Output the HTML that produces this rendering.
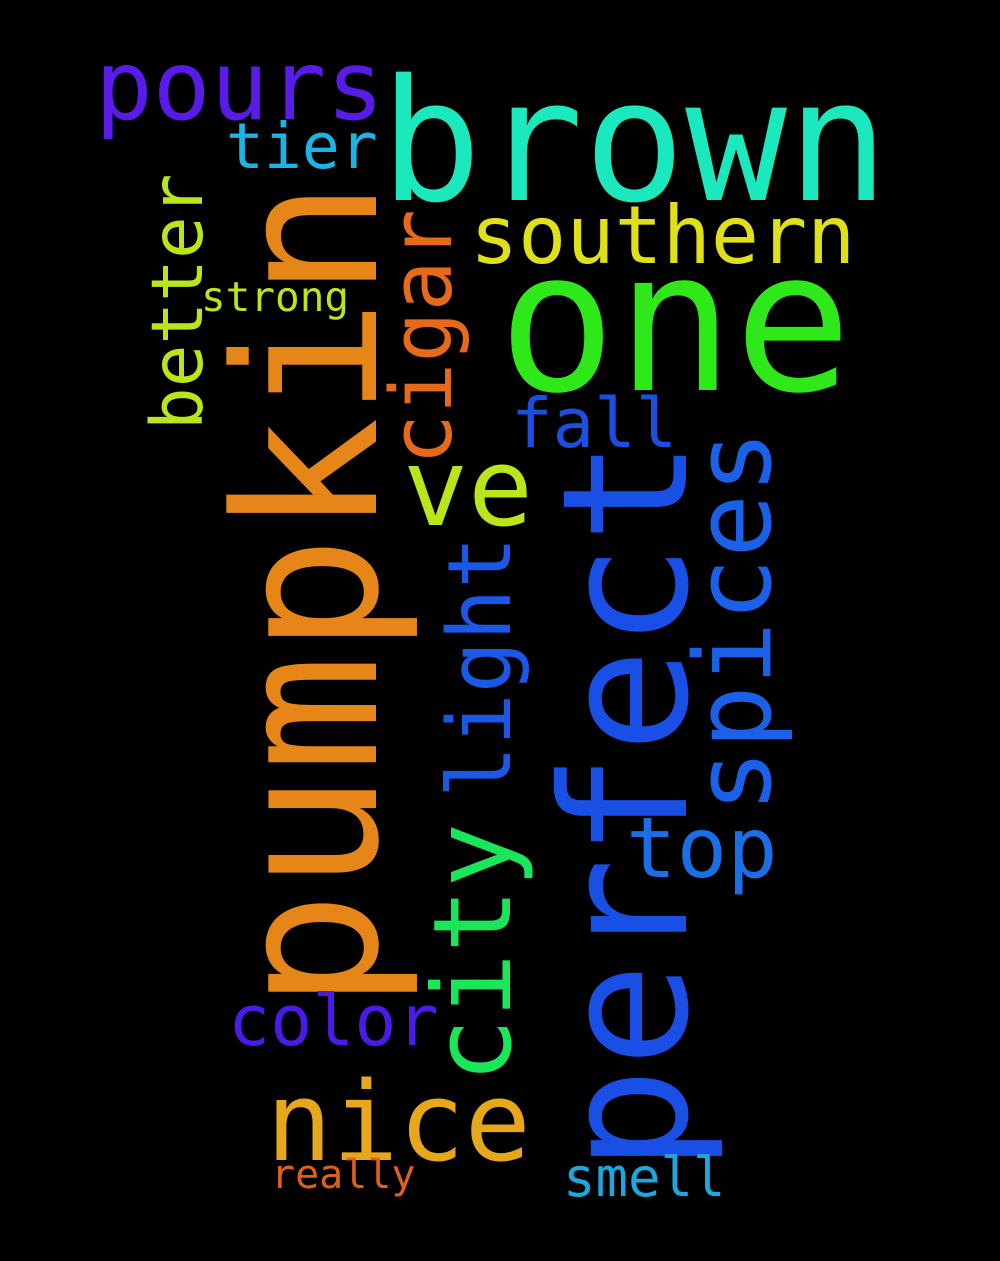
<!DOCTYPE html>
<html><head><meta charset="utf-8"><style>
html,body{margin:0;padding:0;background:#000;}
svg text{font-family:"DejaVu Sans Mono","Liberation Mono",monospace;}
</style></head><body>
<svg width="1000" height="1256" viewBox="0 0 1000 1256">
<rect width="1000" height="1256" fill="#000"/>
<text x="380" y="200" font-size="169" fill="#1ce8bd">brown</text>
<text x="498" y="390" font-size="196" fill="#2ee81a">one</text>
<text x="95" y="119" font-size="96" fill="#5a1be8">pours</text>
<text x="226" y="168" font-size="63" fill="#1ab4e6">tier</text>
<text x="470" y="263" font-size="80" fill="#e0e01a">southern</text>
<text x="201" y="311" font-size="41" fill="#b8e61a">strong</text>
<text transform="translate(202,430) rotate(-90)" font-size="71" fill="#b8e61a">better</text>
<text transform="translate(376,1010) rotate(-90)" font-size="197" fill="#e68619">pumpkin</text>
<text transform="translate(451,465) rotate(-90)" font-size="85" fill="#e66a1a">cigar</text>
<text x="403" y="525" font-size="108" fill="#b8e61a">ve</text>
<text x="511" y="447" font-size="69" fill="#1a50e0">fall</text>
<text transform="translate(686,1172) rotate(-90)" font-size="174" fill="#1a4fe6">perfect</text>
<text transform="translate(770,813) rotate(-90)" font-size="106" fill="#1a60e8">spices</text>
<text transform="translate(510,1083) rotate(-90)" font-size="108" fill="#1ae65a">city</text>
<text transform="translate(510,798) rotate(-90)" font-size="87" fill="#1a58e6">light</text>
<text x="626" y="877" font-size="84" fill="#1a6ee6">top</text>
<text x="228" y="1045" font-size="70" fill="#4a1ae6">color</text>
<text x="266" y="1160" font-size="110" fill="#e6a81a">nice</text>
<text x="271" y="1188" font-size="40" fill="#e0601a">really</text>
<text x="563" y="1196" font-size="54" fill="#1aa8e0">smell</text>
</svg>
</body></html>
